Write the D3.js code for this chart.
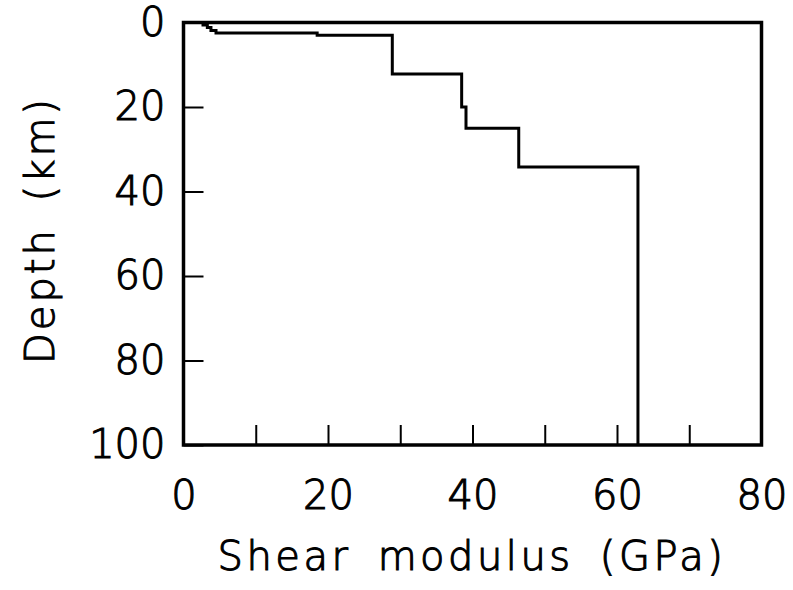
<!DOCTYPE html>
<html><head><meta charset="utf-8">
<script src="https://cdn.jsdelivr.net/npm/d3@7"></script>
<style>
html,body{margin:0;padding:0;background:#fff;}
text{font-family:"DejaVu Sans",sans-serif;font-weight:200;fill:#000;stroke:#000;stroke-width:1.1px;}
</style></head>
<body><svg id="chart" width="793" height="590"></svg>
<script>
// Layer tops (km) and shear modulus (GPa) for each layer
const layerTopDepth = [0, 0.6, 1.2, 1.9, 2.5, 3.0, 12.2, 20.0, 25.0, 34.2];
const layerModulus  = [2.7, 3.3, 3.8, 4.5, 18.5, 28.9, 38.5, 39.1, 46.4, 62.9];
const maxDepth = 100;
const xTickValues = [0, 10, 20, 30, 40, 50, 60, 70, 80];
const xTickLabels = [0, 20, 40, 60, 80];
const yTickValues = [0, 20, 40, 60, 80, 100];
const xTitle = "Shear modulus (GPa)";
const yTitle = "Depth (km)";

const svg = d3.select("#chart");
const L = 183.5, R = 761.5, T = 22.5, B = 445;
const x = d3.scaleLinear().domain([0, 80]).range([L, R]);
const y = d3.scaleLinear().domain([0, 100]).range([T, B]);
const FS = 40;
const FONT = '"DejaVu Sans",sans-serif';

// step profile points
const pts = [];
layerModulus.forEach((m, i) => {
  const top = layerTopDepth[i];
  const bot = i + 1 < layerTopDepth.length ? layerTopDepth[i + 1] : maxDepth;
  pts.push([m, top]);
  pts.push([m, bot]);
});

svg.append("path")
  .datum(pts)
  .attr("fill", "none")
  .attr("stroke", "#000")
  .attr("stroke-width", 3)
  .attr("stroke-linejoin", "miter")
  .attr("d", d3.line().x(d => x(d[0])).y(d => y(d[1])));

function styleText(sel) {
  sel.attr("font-size", FS).style("font-family", FONT).style("font-weight", 200)
    .attr("fill", "#000").attr("stroke", "#000").attr("stroke-width", 1.1);
}

// x axis
const xa = svg.append("g").attr("transform", `translate(0,${B})`)
  .call(d3.axisBottom(x).tickValues(xTickValues).tickSize(-20).tickPadding(36)
    .tickFormat(d => xTickLabels.includes(d) ? d3.format("d")(d) : ""));
xa.select(".domain").remove();
xa.selectAll(".tick line").attr("stroke-width", 2);
styleText(xa.selectAll("text"));

// y axis
const ya = svg.append("g").attr("transform", `translate(${L},0)`)
  .call(d3.axisLeft(y).tickValues(yTickValues).tickSize(-20).tickPadding(18).tickFormat(d3.format("d")));
ya.select(".domain").remove();
ya.selectAll(".tick line").attr("stroke-width", 2);
styleText(ya.selectAll("text"));

// frame
svg.append("rect").attr("x", L).attr("y", T).attr("width", R - L).attr("height", B - T)
  .attr("fill", "none").attr("stroke", "#000").attr("stroke-width", 3.5);

// titles
styleText(svg.append("text").attr("x", 472).attr("y", 570)
  .attr("text-anchor", "middle").attr("word-spacing", 10).attr("letter-spacing", 3.5)
  .text(xTitle));
styleText(svg.append("text").attr("transform", `translate(54,230) rotate(-90)`)
  .attr("text-anchor", "middle").attr("word-spacing", 10).attr("letter-spacing", 3)
  .text(yTitle));
</script></body></html>
